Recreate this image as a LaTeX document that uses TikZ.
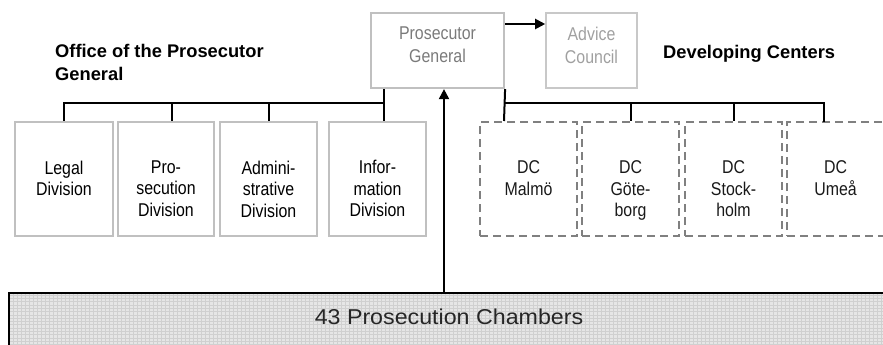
\documentclass[tikz,border=0pt]{standalone}
\usepackage{fontspec}
\setmainfont{Liberation Sans}
\newfontfamily\narrowf[FakeStretch=0.86]{Liberation Sans}
\newfontfamily\widef[FakeStretch=1.08]{Liberation Sans}
\usetikzlibrary{arrows.meta}
\definecolor{boxgray}{HTML}{C0C0C0}
\definecolor{acgray}{HTML}{C8C8C8}
\definecolor{dashgray}{HTML}{808080}
\definecolor{pgtext}{HTML}{7A7A7A}
\definecolor{actext}{HTML}{A0A0A0}
\definecolor{barfill}{HTML}{E6E6E6}
\definecolor{barline}{HTML}{D0D0D0}
\begin{document}
\begin{tikzpicture}[x=1pt,y=-1pt,
  solidbox/.style={draw=boxgray, line width=2.5pt, inner sep=0pt, minimum height=114pt},
  dashbox/.style={draw=dashgray, line width=2pt, dash pattern=on 8pt off 5pt, inner sep=0pt, minimum height=114pt, minimum width=97pt},
  pgbox/.style={draw=boxgray, line width=2.2pt, inner sep=0pt, minimum height=75pt},
  acbox/.style={draw=acgray, line width=1.6pt, inner sep=0pt, minimum height=75pt},
  boxtxt/.style={font=\narrowf\fontsize{18.5}{21.5}\selectfont, align=center, inner sep=0pt, anchor=north},
  toptxt/.style={boxtxt, font=\narrowf\fontsize{18.5}{23}\selectfont},
  heading/.style={font=\bfseries\fontsize{18.3}{23}\selectfont, align=left, inner sep=0pt, anchor=north west},
  conn/.style={draw=black, line width=2pt},
  arr/.style={conn, -{Triangle[length=10pt,width=10pt]}},
  bar/.style={fill=barfill, draw=black, line width=2pt, inner sep=0pt,
    path picture={\draw[barline, line width=0.7pt, xstep=4pt, ystep=3.3pt]
      (path picture bounding box.south west) grid (path picture bounding box.north east);}}
]
\useasboundingbox (0,0) rectangle (883,345);

% top boxes
\node[pgbox, minimum width=133pt] (pg) at (437.5,50.5) {};
\node[toptxt, text=pgtext] (pgt) at (437.5,26.8) {Prosecutor\\General};
\node[acbox, minimum width=91pt] (ac) at (591.5,50.5) {};
\node[toptxt, text=actext] (act) at (591.5,26.8) {Advice\\Council};

% headings
\node[heading] (h1) at (55,44.5) {Office of the Prosecutor\\General};
\node[heading] (h2) at (663,45.5) {Developing Centers};

% division boxes
\node[solidbox, minimum width=98pt] (legal) at (64,179) {};
\node[solidbox, minimum width=96pt] (pros) at (166,179) {};
\node[solidbox, minimum width=97pt] (admin) at (268.5,179) {};
\node[solidbox, minimum width=97pt] (info) at (377.5,179) {};
\node[boxtxt] (legalt) at (64,160.4) {Legal\\Division};
\node[boxtxt] (prost) at (166,160.4) {Pro-\\secution\\Division};
\node[boxtxt] (admint) at (268.5,160.4) {Admini-\\strative\\Division};
\node[boxtxt] (infot) at (377.5,160.4) {Infor-\\mation\\Division};

% developing centers
\node[dashbox] (malmo) at (528.5,179) {};
\node[dashbox] (gote) at (630.5,179) {};
\node[dashbox] (stock) at (733.5,179) {};
\node[dashbox, minimum width=101pt] (umea) at (837.5,179) {};
\node[boxtxt, text={black!90}] (malmot) at (528.5,160.4) {DC\\Malmö};
\node[boxtxt, text={black!90}] (gotet) at (630.5,160.4) {DC\\Göte-\\borg};
\node[boxtxt, text={black!90}] (stockt) at (733.5,160.4) {DC\\Stock-\\holm};
\node[boxtxt, text={black!90}] (umeat) at (835.5,160.4) {DC\\Umeå};

% bottom bar
\node[bar, minimum width=881pt, minimum height=57pt] (bar) at (449.5,321.5) {};
\node[font=\widef\fontsize{21.5}{24}\selectfont, text={black!85}, inner sep=0pt, anchor=base] (bart) at (449,324.3) {43 Prosecution Chambers};

% connectors left
\coordinate (lb) at (384,103);
\draw[conn] (pg.south -| lb) -- (lb) -| (legal.north);
\draw[conn] ([xshift=6pt]pros.north) -- ([xshift=6pt]pros.north |- lb);
\draw[conn] (admin.north) -- (admin.north |- lb);
\draw[conn] (lb) -- (lb |- info.north);

% connectors right
\coordinate (rb) at (504,103);
\coordinate (ut) at (824,122);
\draw[conn] (pg.south east) -- (rb |- malmo.north);
\draw[conn] (rb) -| (ut);
\draw[conn] (gote.north |- rb) -- (gote.north);
\draw[conn] (stock.north |- rb) -- (stock.north);

% arrows
\draw[arr] ([yshift=26.5pt]pg.east) -- ([yshift=26.5pt]ac.west);
\coordinate (up) at (444,88);
\draw[arr] (bar.north -| up) -- (pg.south -| up);
\end{tikzpicture}
\end{document}
